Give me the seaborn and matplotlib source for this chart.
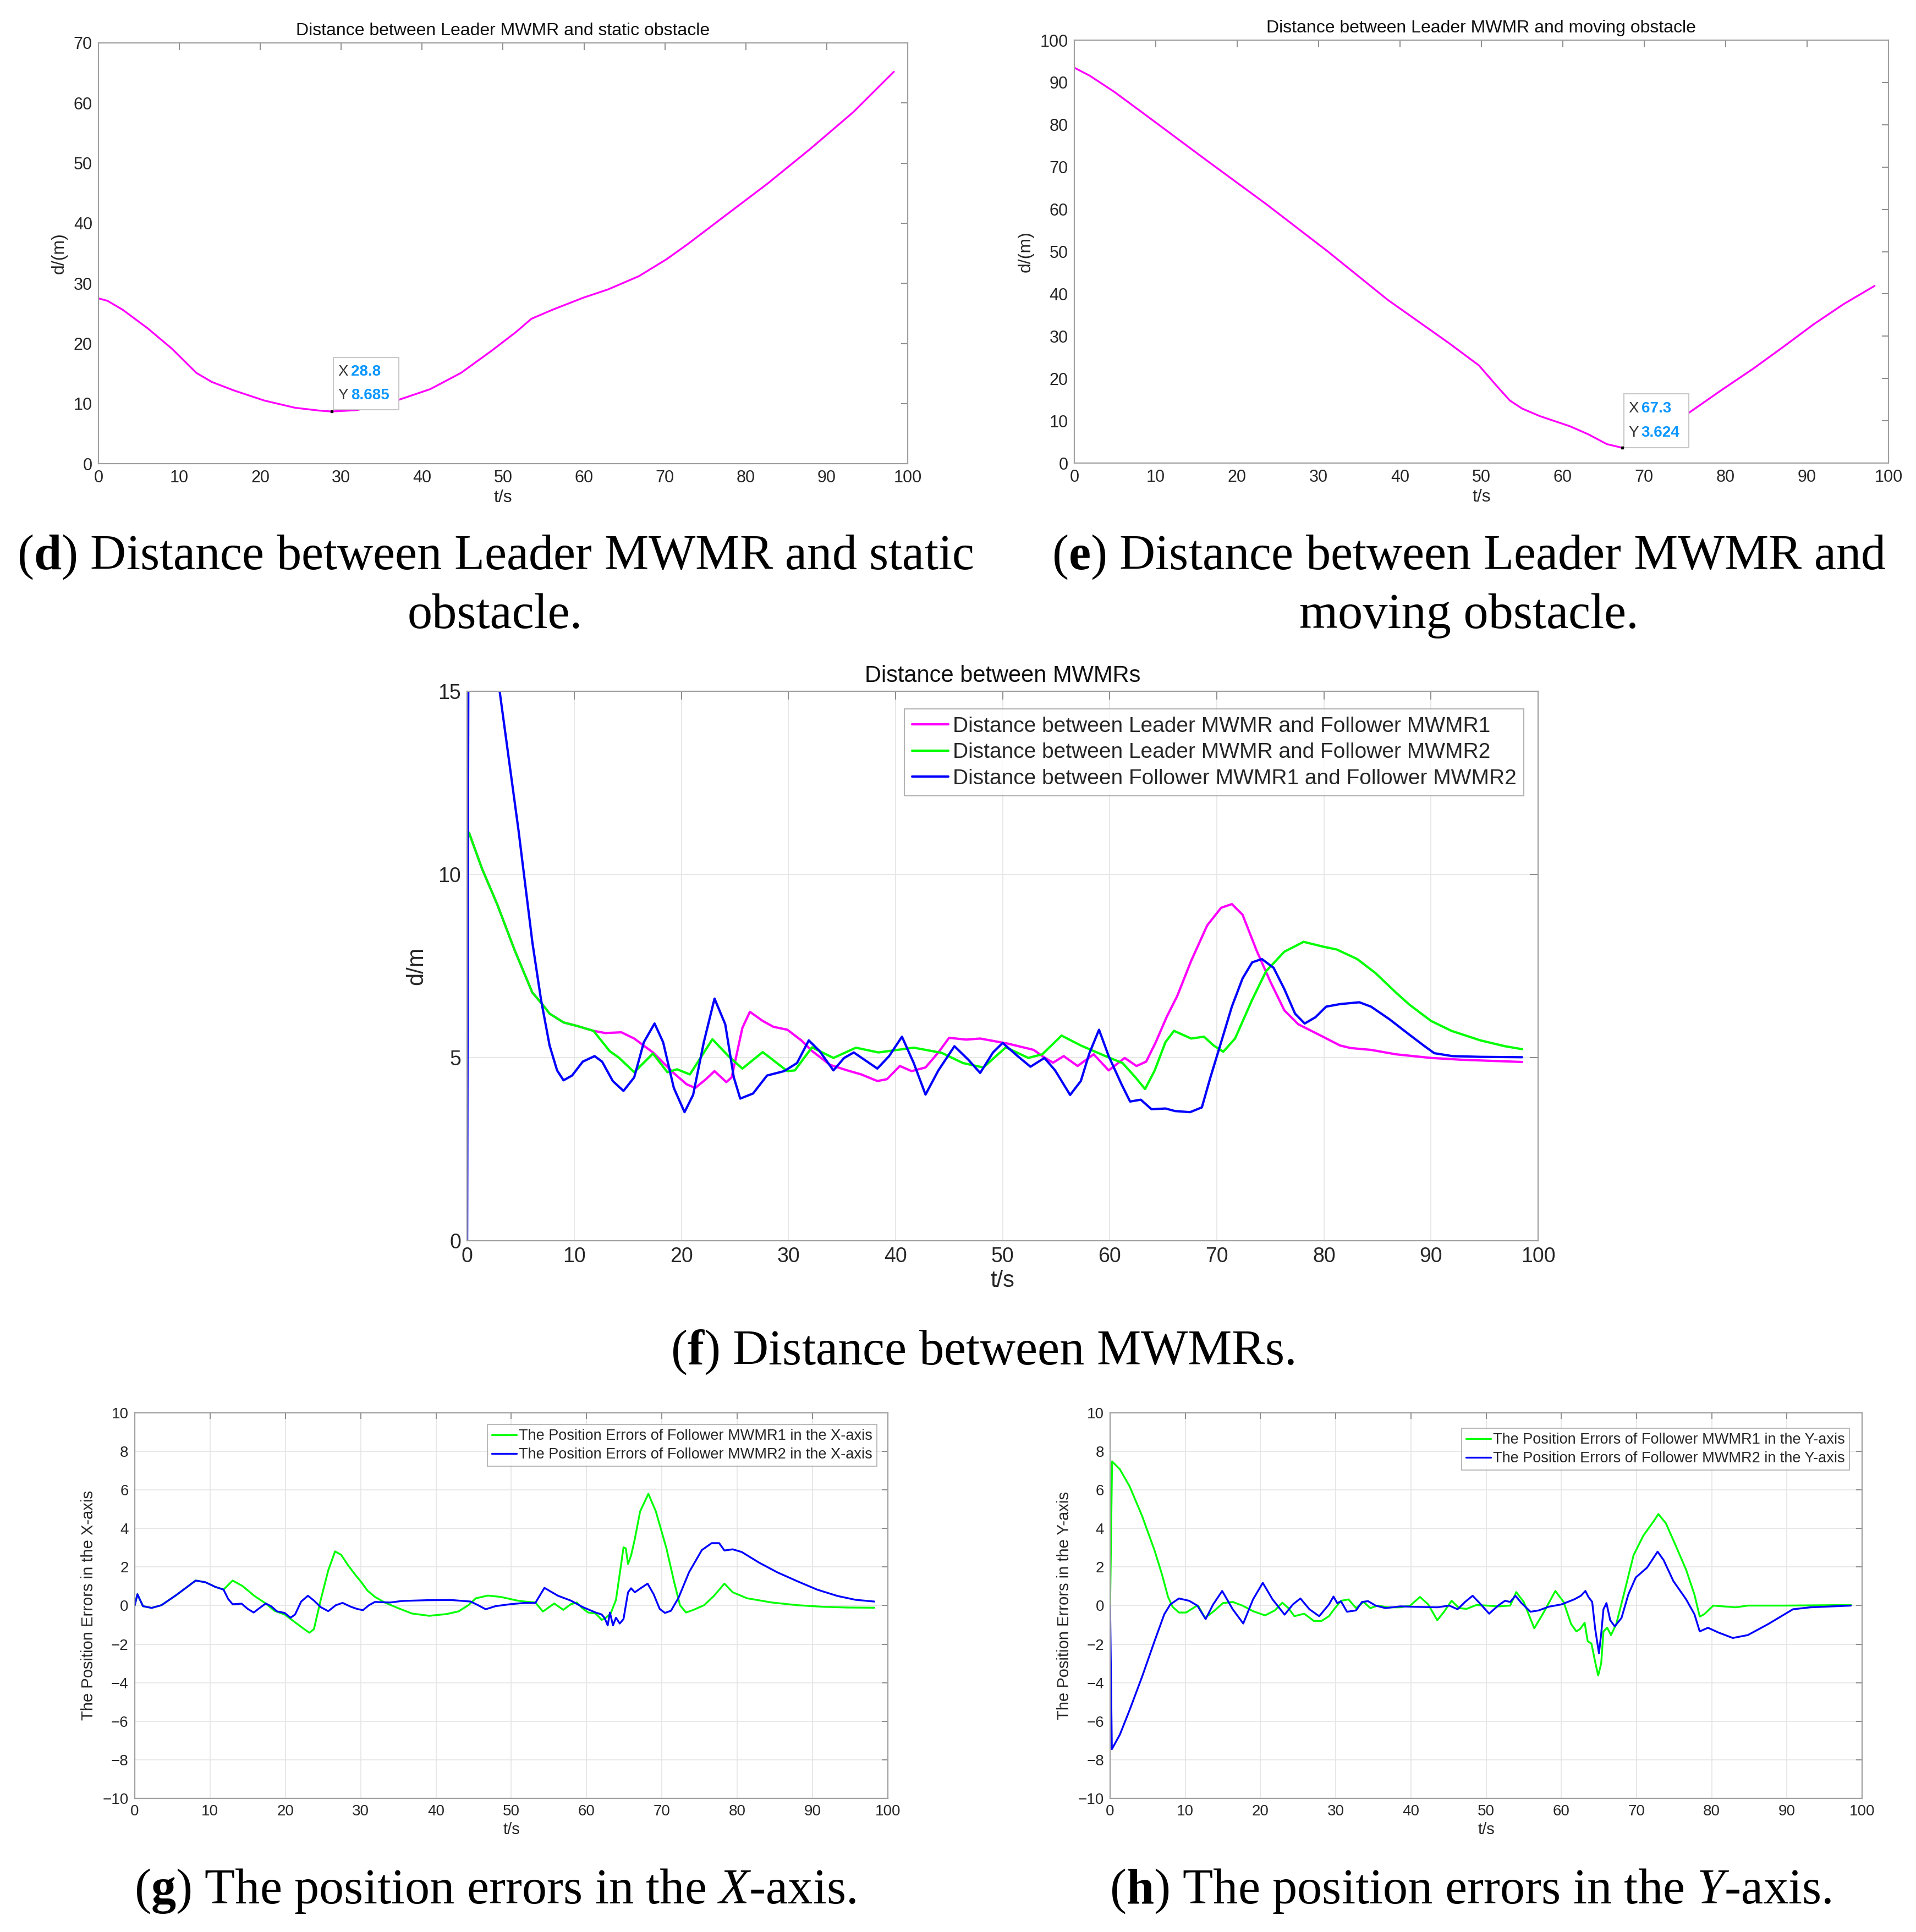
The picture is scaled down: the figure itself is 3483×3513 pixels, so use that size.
import matplotlib
matplotlib.use("Agg")
import matplotlib.pyplot as plt
from matplotlib.patches import Rectangle
import seaborn as sns

# ---- panel (d): distance leader / static obstacle ----
d_t = [0, 1.1, 3.0, 6.1, 9.1, 12.1, 14.0, 16.7, 20.5, 24.3, 27.3, 28.8, 31.9, 36.4, 41.0, 44.8,
       48.6, 51.6, 53.5, 56.1, 59.9, 63.0, 66.8, 70.2, 72.8, 77.4, 82.7, 88.0, 93.3, 98.3]
d_val = [27.5, 27.1, 25.6, 22.5, 19.1, 15.1, 13.6, 12.2, 10.5, 9.3, 8.83, 8.685, 8.9, 10.3, 12.4, 15.1,
         18.8, 21.9, 24.1, 25.6, 27.6, 29.0, 31.2, 34.0, 36.5, 41.2, 46.6, 52.4, 58.5, 65.2]
d_tip = (28.8, 8.685)

# ---- panel (e): distance leader / moving obstacle ----
e_t = [0, 1.9, 4.9, 8.7, 16.1, 23.6, 31.1, 38.5, 46.0, 49.7, 52.0, 53.5, 55.0, 57.2, 60.9, 63.2, 65.4, 67.3,
       70.0, 72.5, 75.5, 79.6, 83.3, 87.1, 90.8, 94.5, 98.3]
e_val = [93.5, 91.6, 87.8, 82.4, 71.8, 61.2, 50.1, 38.6, 28.4, 23.1, 18.0, 14.8, 12.9, 11.1, 8.7, 6.75, 4.5, 3.624,
         6.0, 8.8, 11.9, 17.4, 22.2, 27.5, 32.8, 37.6, 41.9]
e_tip = (67.3, 3.624)

# ---- panel (f): distance between MWMRs ----
f_lf2_t = [0, 0.2, 1.4, 2.8, 4.44, 6.08, 7.06, 7.7, 9.0, 10.3, 11.8, 13.3, 14.2, 15.6, 17.35, 18.7, 19.6, 20.8,
           22.9, 24.4, 25.7, 27.6, 29.9, 30.6, 32.2, 34.2, 36.3, 38.4, 41.7, 44.3, 46.3, 48.2, 50.3,
           52.4, 53.7, 55.5, 57.3, 59.6, 61.2, 62.4, 63.3, 64.2, 65.2, 66.0, 67.6, 68.8, 69.7, 70.6,
           71.7, 73.3, 74.6, 76.3, 78.1, 79.9, 81.2, 83.1, 84.8, 86.7, 88.0, 90.0, 91.9, 94.6, 96.9, 98.5]
f_lf2 = [11.2, 11.12, 10.15, 9.19, 7.93, 6.78, 6.44, 6.2, 5.96, 5.86, 5.73, 5.18, 4.99, 4.60, 5.11, 4.60, 4.68, 4.54,
         5.50, 5.04, 4.70, 5.15, 4.63, 4.65, 5.28, 4.99, 5.27, 5.14, 5.27, 5.13, 4.85, 4.73, 5.28,
         4.99, 5.09, 5.60, 5.33, 5.04, 4.85, 4.46, 4.14, 4.65, 5.42, 5.73, 5.52, 5.57, 5.33, 5.16,
         5.52, 6.58, 7.36, 7.89, 8.16, 8.03, 7.95, 7.69, 7.31, 6.78, 6.44, 6.00, 5.73, 5.47, 5.31, 5.23]

f_lf1_t = [0, 0.2, 1.4, 2.8, 4.44, 6.08, 7.06, 7.7, 9.0, 10.3, 11.8, 12.9, 14.4, 15.6, 17.35, 19.2, 20.5, 21.3,
           22.3, 23.1, 24.2, 24.7, 25.7, 26.4, 27.6, 28.6, 29.9, 31.2, 32.2, 33.9, 35.5, 36.8, 38.3,
           39.2, 40.4, 41.5, 42.8, 44.0, 45.0, 46.6, 47.9, 50.5, 52.9, 53.7, 54.7, 55.7, 57.0, 58.5,
           59.9, 61.4, 62.5, 63.4, 64.3, 65.3, 66.3, 67.6, 69.1, 70.4, 71.4, 72.4, 73.7, 75.0, 76.3,
           77.6, 79.9, 81.5, 82.5, 84.4, 86.7, 90.0, 92.9, 98.5]
f_lf1 = [11.2, 11.12, 10.15, 9.19, 7.93, 6.78, 6.44, 6.2, 5.96, 5.86, 5.73, 5.67, 5.69, 5.52, 5.14, 4.60, 4.27, 4.17,
         4.41, 4.63, 4.33, 4.46, 5.81, 6.25, 6.00, 5.84, 5.76, 5.47, 5.18, 4.80, 4.65, 4.54, 4.36,
         4.41, 4.77, 4.63, 4.73, 5.14, 5.54, 5.49, 5.52, 5.38, 5.21, 5.04, 4.86, 5.04, 4.77, 5.09,
         4.65, 4.99, 4.77, 4.89, 5.42, 6.10, 6.68, 7.64, 8.61, 9.09, 9.19, 8.90, 7.93, 7.07, 6.29,
         5.91, 5.57, 5.33, 5.26, 5.21, 5.09, 4.99, 4.94, 4.88]

f_ff_t = [0, 0.15, 3.0, 4.8, 6.1, 6.9, 7.7, 8.4, 9.0, 9.8, 10.8, 11.9, 12.6, 13.6, 14.6, 15.6, 16.5,
          17.5, 18.3, 19.3, 20.3, 21.1, 22.1, 23.1, 24.1, 24.9, 25.5, 26.7, 28.0, 29.6, 30.8, 31.9,
          32.9, 34.2, 35.2, 36.1, 37.1, 38.3, 39.4, 40.6, 41.7, 42.8, 44.0, 45.5, 46.8, 47.9, 49.1,
          50.0, 51.4, 52.6, 53.9, 54.9, 56.3, 57.3, 58.1, 59.0, 59.9, 61.1, 61.9, 62.9, 63.9, 65.2,
          66.1, 67.5, 68.6, 69.4, 70.4, 71.4, 72.4, 73.3, 74.2, 75.3, 76.3, 77.3, 78.2, 79.2, 80.2,
          81.5, 83.3, 84.4, 86.1, 88.0, 89.4, 90.3, 92.0, 94.6, 98.5]
f_ff = [0, 21.0, 15.08, 11.2, 8.13, 6.58, 5.33, 4.65, 4.38, 4.51, 4.89, 5.04, 4.89, 4.36, 4.09, 4.46, 5.42,
        5.93, 5.42, 4.17, 3.51, 3.98, 5.42, 6.61, 5.91, 4.46, 3.88, 4.02, 4.51, 4.63, 4.85, 5.47,
        5.18, 4.65, 4.99, 5.14, 4.94, 4.70, 5.04, 5.57, 4.85, 3.99, 4.65, 5.31, 4.94, 4.58, 5.14,
        5.40, 5.04, 4.75, 4.99, 4.65, 3.98, 4.36, 5.12, 5.76, 5.04, 4.27, 3.80, 3.85, 3.59, 3.61,
        3.54, 3.51, 3.64, 4.46, 5.42, 6.39, 7.16, 7.60, 7.69, 7.45, 6.87, 6.20, 5.93, 6.10, 6.39,
        6.46, 6.51, 6.39, 6.05, 5.62, 5.31, 5.12, 5.04, 5.02, 5.01]

f_labels = ["Distance between Leader MWMR and Follower MWMR1",
            "Distance between Leader MWMR and Follower MWMR2",
            "Distance between Follower MWMR1 and Follower MWMR2"]

# ---- panel (g): position errors, X axis ----
gx1_t = [0, 0.36, 1.1, 2.25, 3.55, 5.5, 6.8, 8.1, 9.4, 10.7, 11.8, 13.0, 14.3, 15.9, 17.4, 18.55, 19.9,
         21.2, 22.5, 23.2, 23.8, 24.7, 25.7, 26.6, 27.4, 28.3, 29.3, 30.1, 30.9, 31.9, 33.2, 34.9, 36.8,
         39.1, 41.4, 43.0, 44.3, 45.3, 46.9, 48.6, 50.8, 51.8, 53.2, 54.2, 55.7, 56.9, 57.9, 58.7, 59.4,
         60.2, 61.2, 62.0, 62.5, 63.2, 63.9, 64.5, 64.9, 65.2, 65.5, 65.9, 66.4, 67.1, 68.2, 69.2, 70.6,
         71.6, 72.4, 73.2, 74.2, 75.6, 76.9, 78.3, 79.4, 81.3, 84.6, 88.0, 91.3, 94.6, 98.2]
gx1 = [0, 0.59, -0.03, -0.12, 0.02, 0.54, 0.92, 1.30, 1.21, 0.97, 0.83, 1.30, 1.02, 0.50, 0.11, -0.27, -0.46,
       -0.84, -1.22, -1.41, -1.22, 0.30, 1.83, 2.81, 2.64, 2.11, 1.59, 1.21, 0.78, 0.45, 0.16, -0.12, -0.41,
       -0.53, -0.44, -0.30, 0.02, 0.38, 0.52, 0.45, 0.26, 0.21, 0.16, -0.31, 0.11, -0.22, 0.07, 0.16, -0.12,
       -0.36, -0.41, -0.74, -0.65, -0.41, 0.30, 1.92, 3.02, 2.97, 2.16, 2.59, 3.45, 4.88, 5.8, 4.88, 2.97,
       1.26, 0.02, -0.36, -0.22, 0.02, 0.50, 1.14, 0.69, 0.38, 0.16, 0.02, -0.06, -0.10, -0.11]

gx2_t = [0, 0.36, 1.1, 2.25, 3.55, 5.5, 6.8, 8.1, 9.4, 10.7, 11.8, 12.4, 13.0, 14.2, 15.0, 15.8, 16.6, 17.4,
         18.1, 18.9, 19.9, 20.7, 21.3, 22.1, 23.0, 23.8, 24.7, 25.7, 26.7, 27.6, 28.7, 29.5, 30.3, 31.1,
         31.9, 33.9, 35.5, 38.8, 42.0, 44.6, 45.6, 46.6, 47.9, 49.8, 51.8, 53.2, 54.4, 56.2, 57.9, 59.5,
         61.2, 62.0, 62.4, 62.8, 63.1, 63.5, 63.9, 64.4, 64.9, 65.5, 65.9, 66.4, 67.1, 68.1, 68.9, 69.7,
         70.4, 71.2, 72.2, 73.6, 75.3, 76.6, 77.6, 78.3, 79.4, 80.6, 82.9, 85.3, 88.0, 90.6, 93.3, 95.7, 98.2]
gx2 = [0, 0.59, -0.03, -0.12, 0.02, 0.54, 0.92, 1.30, 1.21, 0.97, 0.83, 0.35, 0.07, 0.10, -0.17, -0.36, -0.12, 0.11,
       -0.03, -0.30, -0.38, -0.63, -0.46, 0.21, 0.51, 0.26, -0.08, -0.29, 0.02, 0.14, -0.06, -0.17, -0.24, 0.02,
       0.19, 0.16, 0.24, 0.28, 0.29, 0.21, 0.02, -0.19, -0.03, 0.07, 0.14, 0.14, 0.92, 0.51, 0.26, -0.08,
       -0.36, -0.46, -0.65, -1.03, -0.36, -1.03, -0.63, -0.93, -0.70, 0.69, 0.90, 0.69, 0.88, 1.14, 0.59, -0.17,
       -0.38, -0.27, 0.40, 1.73, 2.88, 3.24, 3.24, 2.86, 2.92, 2.78, 2.23, 1.73, 1.26, 0.83, 0.50, 0.30, 0.21]

# ---- panel (h): position errors, Y axis ----
hy1_t = [0, 0.26, 1.3, 2.6, 4.25, 5.9, 6.9, 7.7, 8.3, 9.15, 10.1, 11.4, 11.7, 12.6, 13.7, 15.0, 16.3, 17.6,
         19.0, 20.6, 21.9, 22.9, 23.7, 24.5, 25.8, 27.1, 28.1, 29.1, 29.9, 30.7, 31.7, 32.7, 33.7, 34.6,
         35.6, 36.9, 38.6, 39.9, 41.2, 42.3, 43.5, 44.4, 45.4, 46.4, 47.4, 48.7, 50.1, 51.7, 53.2, 54.0,
         55.0, 56.4, 57.7, 59.2, 60.3, 61.3, 62.0, 62.5, 63.1, 63.5, 64.0, 64.5, 64.9, 65.3, 65.6, 66.1,
         66.6, 67.3, 68.3, 69.6, 70.9, 72.3, 72.9, 73.9, 75.2, 76.6, 77.7, 78.4, 79.0, 80.2, 81.5, 83.2,
         84.8, 89.8, 98.5]
hy1 = [0, 7.48, 7.07, 6.18, 4.65, 2.87, 1.61, 0.45, -0.06, -0.36, -0.36, -0.04, 0.0, -0.64, -0.32, 0.13, 0.19, 0.0,
       -0.29, -0.51, -0.25, 0.15, -0.13, -0.55, -0.42, -0.80, -0.80, -0.55, -0.13, 0.25, 0.32, -0.13, 0.19, -0.13,
       0.0, -0.09, -0.09, 0.0, 0.45, 0.06, -0.76, -0.32, 0.25, -0.13, -0.17, 0.03, 0.0, -0.04, 0.0, 0.70,
       0.19, -1.18, -0.32, 0.76, 0.19, -0.96, -1.34, -1.21, -0.89, -1.85, -1.97, -2.93, -3.63, -2.99, -1.34, -1.15,
       -1.53, -0.96, 0.57, 2.61, 3.63, 4.39, 4.75, 4.27, 3.12, 1.85, 0.57, -0.57, -0.45, 0.0, -0.04, -0.09,
       0.0, 0.0, 0.03]

hy2_t = [0, 0.23, 1.3, 2.6, 4.25, 5.9, 7.2, 8.0, 9.15, 10.5, 11.6, 12.7, 13.7, 14.9, 16.3, 17.7, 19.0, 20.3,
         21.6, 23.2, 24.3, 25.3, 26.5, 27.8, 29.1, 29.7, 30.2, 30.7, 31.5, 32.7, 33.5, 34.3, 35.3, 36.6,
         38.6, 40.2, 43.5, 45.1, 46.2, 47.2, 48.2, 49.3, 50.4, 51.6, 52.5, 53.2, 53.9, 54.7, 55.9, 57.0,
         58.3, 60.0, 61.7, 62.6, 63.2, 63.6, 64.1, 64.5, 65.0, 65.3, 65.6, 66.0, 66.5, 67.1, 68.0, 68.9,
         69.9, 71.4, 72.8, 73.6, 74.9, 76.6, 77.7, 78.4, 79.5, 80.9, 82.8, 84.8, 87.5, 90.8, 93.1, 98.5]
hy2 = [0, -7.45, -6.69, -5.41, -3.69, -1.85, -0.45, 0.06, 0.37, 0.25, 0.0, -0.70, 0.06, 0.76, -0.19, -0.93, 0.32, 1.18,
       0.32, -0.47, 0.06, 0.37, -0.19, -0.55, 0.06, 0.47, 0.13, 0.22, -0.32, -0.25, 0.19, 0.23, 0.0, -0.13,
       -0.04, -0.06, -0.09, 0.0, -0.19, 0.19, 0.51, 0.06, -0.42, 0.0, 0.25, 0.19, 0.51, 0.13, -0.32, -0.25,
       -0.06, 0.06, 0.32, 0.51, 0.76, 0.45, 0.19, -1.21, -2.48, -1.46, -0.19, 0.13, -0.76, -1.08, -0.64, 0.57,
       1.46, 1.97, 2.80, 2.36, 1.27, 0.32, -0.45, -1.34, -1.15, -1.40, -1.68, -1.53, -0.96, -0.19, -0.09, 0.0]

MAG, GRN, BLU = "#ff00ff", "#00ff00", "#0000ff"
TIPBLUE = "#0a96ff"

sns.set_theme(style="white")
plt.rcParams["font.family"] = ["Liberation Sans", "DejaVu Sans"]
plt.rcParams["mathtext.fontset"] = "custom"
plt.rcParams["mathtext.rm"] = "Liberation Serif"
plt.rcParams["mathtext.bf"] = "Liberation Serif:bold"
plt.rcParams["mathtext.it"] = "Liberation Serif:italic"

fig = plt.figure(figsize=(34.83, 35.13), dpi=100)


def matlab_axes(ax, fs, grid, ticklen):
    for s in ax.spines.values():
        s.set_color("#a0a0a0")
        s.set_linewidth(1.6)
    ax.tick_params(direction="in", top=True, right=True, length=ticklen, width=1.4,
                   color="#8c8c8c", labelcolor="#262626", labelsize=fs, pad=8)
    if grid:
        ax.grid(True, color="#e6e6e6", linewidth=1.3)
        ax.set_axisbelow(True)
    else:
        ax.grid(False)


def datatip(ax, tip, box, fs):
    x0, y0, x1, y1 = box
    ax.add_patch(Rectangle((x0, y0), x1 - x0, y1 - y0, facecolor="white",
                           edgecolor="#c8c8c8", linewidth=1.5, zorder=5))
    ax.plot([tip[0]], [tip[1]], marker="s", ms=3, color="black", zorder=6)
    xm = x0 + (x1 - x0) * 0.07
    xv = x0 + (x1 - x0) * 0.27
    ya = y0 + (y1 - y0) * 0.72
    yb = y0 + (y1 - y0) * 0.27
    ax.text(xm, ya, "X", fontsize=fs, color="#333333", va="center", zorder=7)
    ax.text(xv, ya, f"{tip[0]:g}", fontsize=fs, color=TIPBLUE, fontweight="bold", va="center", zorder=7)
    ax.text(xm, yb, "Y", fontsize=fs, color="#333333", va="center", zorder=7)
    ax.text(xv, yb, f"{tip[1]:g}", fontsize=fs, color=TIPBLUE, fontweight="bold", va="center", zorder=7)


# (d)
ax_d = fig.add_axes([0.0514, 0.7600, 0.4223, 0.2178])
sns.lineplot(x=d_t, y=d_val, ax=ax_d, color=MAG, linewidth=2.4, sort=False, estimator=None)
ax_d.set_xlim(0, 100)
ax_d.set_ylim(0, 70)
ax_d.set_xticks(range(0, 101, 10))
ax_d.set_yticks(range(0, 71, 10))
matlab_axes(ax_d, 22, False, 9)
ax_d.set_title("Distance between Leader MWMR and static obstacle", fontsize=23, color="#111111", pad=10)
ax_d.set_xlabel("t/s", fontsize=23, color="#262626", labelpad=4)
ax_d.set_ylabel("d/(m)", fontsize=23, color="#262626", labelpad=8)
datatip(ax_d, d_tip, (29.0, 9.0, 37.1, 17.7), 20)

# (e)
ax_e = fig.add_axes([0.5607, 0.7603, 0.4249, 0.2189])
sns.lineplot(x=e_t, y=e_val, ax=ax_e, color=MAG, linewidth=2.4, sort=False, estimator=None)
ax_e.set_xlim(0, 100)
ax_e.set_ylim(0, 100)
ax_e.set_xticks(range(0, 101, 10))
ax_e.set_yticks(range(0, 101, 10))
matlab_axes(ax_e, 22, False, 9)
ax_e.set_title("Distance between Leader MWMR and moving obstacle", fontsize=23, color="#111111", pad=10)
ax_e.set_xlabel("t/s", fontsize=23, color="#262626", labelpad=4)
ax_e.set_ylabel("d/(m)", fontsize=23, color="#262626", labelpad=8)
datatip(ax_e, e_tip, (67.5, 3.7, 75.5, 16.4), 20)

# (f)
ax_f = fig.add_axes([0.2438, 0.3578, 0.5590, 0.2844])
sns.lineplot(x=f_lf1_t, y=f_lf1, ax=ax_f, color=MAG, linewidth=3.0, sort=False, estimator=None, label=f_labels[0])
sns.lineplot(x=f_lf2_t, y=f_lf2, ax=ax_f, color=GRN, linewidth=3.0, sort=False, estimator=None, label=f_labels[1])
sns.lineplot(x=f_ff_t, y=f_ff, ax=ax_f, color=BLU, linewidth=3.0, sort=False, estimator=None, label=f_labels[2])
ax_f.set_xlim(0, 100)
ax_f.set_ylim(0, 15)
ax_f.set_xticks(range(0, 101, 10))
ax_f.set_yticks([0, 5, 10, 15])
matlab_axes(ax_f, 27, True, 11)
ax_f.set_title("Distance between MWMRs", fontsize=30, color="#111111", pad=12)
ax_f.set_xlabel("t/s", fontsize=30, color="#262626", labelpad=4)
ax_f.set_ylabel("d/m", fontsize=30, color="#262626", labelpad=14)
leg = ax_f.legend(loc="upper right", bbox_to_anchor=(0.9866, 0.968), borderaxespad=0, fontsize=28,
                  frameon=True, fancybox=False, edgecolor="#a0a0a0", handlelength=1.7,
                  handletextpad=0.2, labelspacing=0.3, borderpad=0.35)
leg.get_frame().set_linewidth(1.5)

# (g)
ax_g = fig.add_axes([0.0703, 0.0692, 0.3931, 0.1995])
sns.lineplot(x=gx1_t, y=gx1, ax=ax_g, color=GRN, linewidth=2.4, sort=False, estimator=None,
             label="The Position Errors of Follower MWMR1 in the X-axis")
sns.lineplot(x=gx2_t, y=gx2, ax=ax_g, color=BLU, linewidth=2.4, sort=False, estimator=None,
             label="The Position Errors of Follower MWMR2 in the X-axis")
ax_g.set_xlim(0, 100)
ax_g.set_ylim(-10, 10)
ax_g.set_xticks(range(0, 101, 10))
ax_g.set_yticks(range(-10, 11, 2))
matlab_axes(ax_g, 20, True, 8)
ax_g.set_xlabel("t/s", fontsize=21, color="#262626", labelpad=4)
ax_g.set_ylabel("The Position Errors in the X-axis", fontsize=21, color="#262626", labelpad=8)
leg = ax_g.legend(loc="upper right", bbox_to_anchor=(0.9854, 0.970), borderaxespad=0, fontsize=19.5,
                  frameon=True, fancybox=False, edgecolor="#a0a0a0", handlelength=1.65,
                  handletextpad=0.15, labelspacing=0.3, borderpad=0.3)
leg.get_frame().set_linewidth(1.3)

# (h)
ax_h = fig.add_axes([0.5794, 0.0692, 0.3925, 0.1995])
sns.lineplot(x=hy1_t, y=hy1, ax=ax_h, color=GRN, linewidth=2.4, sort=False, estimator=None,
             label="The Position Errors of Follower MWMR1 in the Y-axis")
sns.lineplot(x=hy2_t, y=hy2, ax=ax_h, color=BLU, linewidth=2.4, sort=False, estimator=None,
             label="The Position Errors of Follower MWMR2 in the Y-axis")
ax_h.set_xlim(0, 100)
ax_h.set_ylim(-10, 10)
ax_h.set_xticks(range(0, 101, 10))
ax_h.set_yticks(range(-10, 11, 2))
matlab_axes(ax_h, 20, True, 8)
ax_h.set_xlabel("t/s", fontsize=21, color="#262626", labelpad=4)
ax_h.set_ylabel("The Position Errors in the Y-axis", fontsize=21, color="#262626", labelpad=8)
leg = ax_h.legend(loc="upper right", bbox_to_anchor=(0.983, 0.960), borderaxespad=0, fontsize=19.5,
                  frameon=True, fancybox=False, edgecolor="#a0a0a0", handlelength=1.65,
                  handletextpad=0.15, labelspacing=0.3, borderpad=0.3)
leg.get_frame().set_linewidth(1.3)

# captions
cap = dict(fontsize=65, ha="center", va="baseline", family=["Liberation Serif", "DejaVu Serif"], color="black")
fig.text(0.2584, 0.7054, r"($\mathbf{d}$) Distance between Leader MWMR and static", **cap)
fig.text(0.2584, 0.6749, "obstacle.", **cap)
fig.text(0.7666, 0.7054, r"($\mathbf{e}$) Distance between Leader MWMR and", **cap)
fig.text(0.7666, 0.6749, "moving obstacle.", **cap)
fig.text(0.5128, 0.2940, r"($\mathbf{f}$) Distance between MWMRs.", **cap)
fig.text(0.2584, 0.0148, r"($\mathbf{g}$) The position errors in the $X$-axis.", **cap)
fig.text(0.7674, 0.0148, r"($\mathbf{h}$) The position errors in the $Y$-axis.", **cap)

fig.savefig("out.png", dpi=100)
